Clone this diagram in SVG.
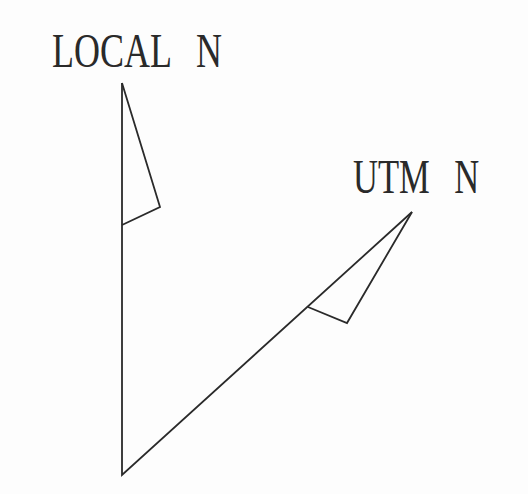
<svg xmlns="http://www.w3.org/2000/svg" width="528" height="494" viewBox="0 0 528 494">
<style>
.lbl{font-family:"Liberation Serif","Times New Roman",serif;font-size:48px;fill:#2a2a2a;word-spacing:22px}
.ln{fill:none;stroke:#2a2a2a;stroke-width:1.8;stroke-linejoin:miter}
</style>
<rect width="528" height="494" fill="#fdfdfd"/>
<g id="local-n">
<text class="lbl" transform="translate(52,67) scale(0.75,1)" x="0" y="0">LOCAL N</text>
<polyline class="ln" points="122,225 160,207 122,83"/>
</g>
<g id="utm-n">
<text class="lbl" transform="translate(353,193) scale(0.72,1)" x="0" y="0">UTM N</text>
<polyline class="ln" points="308,307 347,323 412,212"/>
</g>
<g id="connectors">
<polyline class="ln" points="122,83 122,475 412,212"/>
</g>
</svg>
